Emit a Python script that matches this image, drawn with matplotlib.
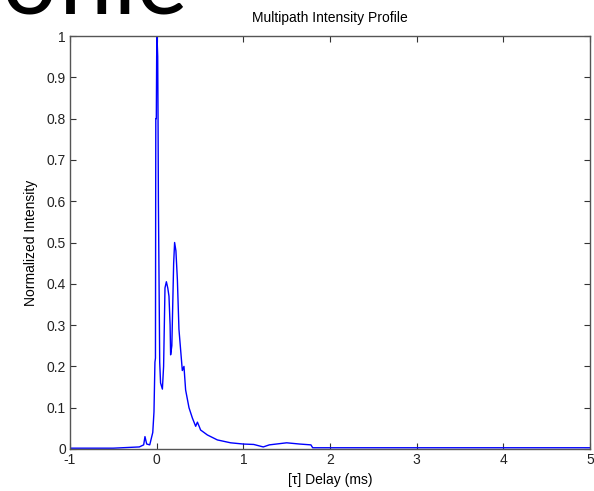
import numpy as np
import matplotlib
matplotlib.use('Agg')
import matplotlib.pyplot as plt

# delay (ms) and normalized intensity
delay = [-1.0, -0.5, -0.3, -0.2, -0.15, -0.135, -0.115, -0.08, -0.045, -0.031,
         -0.02, -0.014, -0.01, -0.004, 0.0, 0.004, 0.012, 0.016, 0.02, 0.035,
         0.045, 0.066, 0.08, 0.096, 0.112, 0.128, 0.142, 0.155, 0.161, 0.175,
         0.196, 0.207, 0.222, 0.239, 0.257, 0.296, 0.315, 0.334, 0.373, 0.412,
         0.45, 0.47, 0.49, 0.507, 0.585, 0.70, 0.853, 1.0, 1.12, 1.23,
         1.3, 1.5, 1.65, 1.78, 1.8, 5.0]
intensity = [0.002, 0.002, 0.004, 0.005, 0.01, 0.03, 0.012, 0.01, 0.04, 0.09,
             0.21, 0.22, 0.80, 0.80, 0.95, 1.0, 0.95, 0.80, 0.60, 0.21,
             0.16, 0.145, 0.20, 0.39, 0.405, 0.39, 0.37, 0.30, 0.228, 0.25,
             0.45, 0.50, 0.48, 0.41, 0.29, 0.19, 0.20, 0.143, 0.10, 0.075,
             0.055, 0.065, 0.055, 0.046, 0.034, 0.022, 0.015, 0.012, 0.011, 0.005,
             0.01, 0.015, 0.012, 0.01, 0.003, 0.003]

xticks = [-1, 0, 1, 2, 3, 4, 5]
yticks = [0, 0.1, 0.2, 0.3, 0.4, 0.5, 0.6, 0.7, 0.8, 0.9, 1]
ylabels = ['0', '0.1', '0.2', '0.3', '0.4', '0.5', '0.6', '0.7', '0.8', '0.9', '1']

plt.rcParams['font.family'] = ['Liberation Sans', 'DejaVu Sans']
plt.rcParams['font.size'] = 10

fig = plt.figure(figsize=(5.94, 4.91), dpi=100)
ax = fig.add_axes([70/594, 1-449/491, 520/594, 413/491])

ax.plot(delay, intensity, color='#0000ff', lw=1)

ax.set_xlim(-1, 5)
ax.set_ylim(0, 1)
ax.set_xticks(xticks)
ax.set_xticklabels([str(v) for v in xticks])
ax.set_yticks(yticks)
ax.set_yticklabels(ylabels)
ax.tick_params(direction='in', length=4, top=True, right=True, colors='#333333',
               labelcolor='#222222', pad=3)
for s in ax.spines.values():
    s.set_color('#555555')
    s.set_linewidth(1)

ax.set_title('Multipath Intensity Profile', fontsize=10, pad=10)
ax.set_xlabel('[τ] Delay (ms)', labelpad=4)
ax.set_ylabel('Normalized Intensity', labelpad=6)

# slide heading text cut off behind the chart
fig.text(188/594, 1-14/491, 'ofile', fontsize=70, family='Lato', ha='right',
         va='baseline', color='black')

plt.savefig('out.png', dpi=100)
